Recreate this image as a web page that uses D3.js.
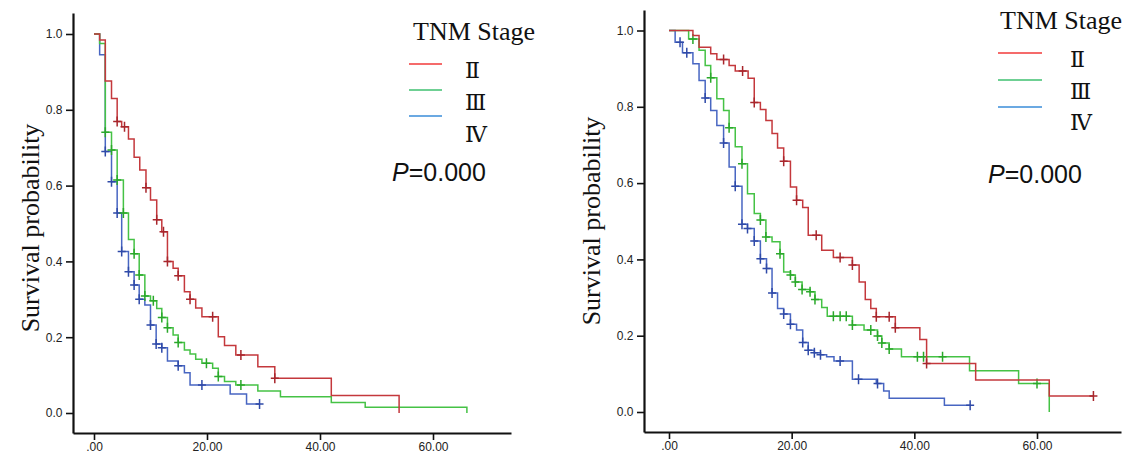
<html>
<head>
<title>TNM Stage survival</title>
<script src="https://d3js.org/d3.v7.min.js"></script>
<style>
  body { margin: 0; background: #fff; }
  .tick text { font-family: Arial, "Liberation Sans", sans-serif; font-size: 12px; fill: #222; }
</style>
</head>
<body>
<svg id="km" width="1126" height="455"></svg>
<script>

// tick labels
const xTicks = [0, 20, 40, 60];
const xTickLabels = [".00", "20.00", "40.00", "60.00"];
const yTicks = [0, 0.2, 0.4, 0.6, 0.8, 1.0];
const yTickLabels = ["0.0", "0.2", "0.4", "0.6", "0.8", "1.0"];
const stages = ["\u2161", "\u2162", "\u2163"];

// left plot: step times, survival after the step, censor times
const leftTimeII = [0, 1.0, 2.0, 3.1, 4.1, 4.9, 6.1, 7.1, 8.1, 9.2, 10.0, 11.1, 12.0, 13.0, 14.0, 14.9, 16.0, 17.0, 18.0, 19.1, 22.0, 23.1, 25.1, 29.0, 32.0, 42.0, 54.0];
const leftSurvII = [1.0, 0.984, 0.876, 0.83, 0.769, 0.755, 0.723, 0.675, 0.641, 0.594, 0.562, 0.51, 0.478, 0.40, 0.382, 0.362, 0.32, 0.30, 0.277, 0.254, 0.201, 0.178, 0.153, 0.122, 0.092, 0.046, 0.0];
const leftCensII = [4.1, 5.4, 9.2, 11.1, 12.3, 13.0, 14.9, 17.0, 21.0, 26.0, 32.0];

const leftTimeIII = [0, 1.0, 2.0, 3.1, 4.1, 5.2, 6.1, 7.1, 8.0, 9.0, 10.0, 11.1, 12.0, 13.0, 14.0, 14.9, 16.0, 17.0, 18.0, 19.1, 21.0, 22.0, 23.1, 25.1, 29.0, 33.0, 42.0, 48.0, 66.0];
const leftSurvIII = [1.0, 0.975, 0.741, 0.694, 0.615, 0.528, 0.458, 0.42, 0.364, 0.309, 0.296, 0.276, 0.252, 0.225, 0.206, 0.186, 0.166, 0.156, 0.142, 0.131, 0.118, 0.096, 0.083, 0.074, 0.058, 0.043, 0.028, 0.015, 0.0];
const leftCensIII = [2.0, 3.1, 4.1, 5.2, 7.1, 8.0, 9.0, 10.5, 12.0, 13.0, 14.9, 19.9, 22.0, 26.0];

const leftTimeIV = [0, 1.0, 2.0, 3.1, 4.1, 4.9, 6.1, 7.1, 8.0, 9.0, 10.0, 11.0, 12.0, 13.0, 14.9, 16.0, 17.0, 24.1, 27.0];
const leftSurvIV = [1.0, 0.945, 0.69, 0.61, 0.528, 0.426, 0.373, 0.338, 0.30, 0.285, 0.232, 0.182, 0.172, 0.137, 0.125, 0.106, 0.074, 0.05, 0.024];
const leftCensIV = [2.0, 3.1, 4.1, 4.9, 6.1, 7.1, 8.0, 10.0, 11.0, 12.0, 14.9, 19.1, 29.3];

// right plot
const rightTimeII = [0, 3.9, 4.9, 6.8, 7.8, 9.8, 10.8, 12.9, 13.9, 14.9, 15.8, 16.8, 17.7, 18.7, 19.8, 20.8, 21.8, 22.7, 24.9, 26.8, 29.9, 31.0, 32.0, 32.9, 33.8, 36.9, 40.9, 42.0, 50.0, 62.0];
const rightSurvII = [1.0, 0.987, 0.956, 0.939, 0.924, 0.908, 0.894, 0.875, 0.811, 0.793, 0.764, 0.73, 0.692, 0.657, 0.59, 0.555, 0.536, 0.463, 0.424, 0.405, 0.385, 0.341, 0.295, 0.271, 0.25, 0.221, 0.19, 0.127, 0.084, 0.042];
const rightCensII = [8.9, 12.0, 13.9, 18.7, 20.8, 24.0, 27.9, 29.9, 33.8, 35.9, 36.9, 42.0, 69.2];

const rightTimeIII = [0, 3.2, 4.9, 5.9, 6.8, 7.8, 8.9, 9.8, 10.8, 11.9, 12.8, 13.9, 14.9, 15.8, 16.8, 18.1, 18.7, 19.8, 20.6, 21.7, 23.0, 23.8, 24.9, 25.8, 29.9, 31.8, 34.0, 34.7, 35.9, 37.9, 49.0, 57.0, 62.0];
const rightSurvIII = [1.0, 0.978, 0.948, 0.908, 0.876, 0.821, 0.79, 0.745, 0.695, 0.651, 0.572, 0.52, 0.503, 0.459, 0.446, 0.415, 0.367, 0.359, 0.341, 0.321, 0.315, 0.295, 0.274, 0.251, 0.228, 0.215, 0.199, 0.181, 0.165, 0.145, 0.108, 0.075, 0.0];
const rightCensIII = [3.9, 6.8, 9.8, 11.9, 14.9, 15.8, 18.1, 19.8, 20.6, 21.7, 23.0, 23.8, 26.8, 27.9, 28.9, 29.9, 32.9, 34.0, 34.7, 35.9, 40.5, 41.5, 44.6, 60.0];

const rightTimeIV = [0, 1.0, 2.2, 3.9, 4.9, 5.9, 6.8, 7.8, 8.9, 9.8, 10.8, 11.9, 12.8, 13.9, 14.9, 15.9, 16.8, 17.7, 18.7, 19.8, 20.8, 21.8, 22.7, 23.7, 24.7, 25.7, 26.9, 29.9, 33.8, 35.0, 35.9, 44.9];
const rightSurvIV = [1.0, 0.969, 0.942, 0.913, 0.869, 0.823, 0.79, 0.751, 0.705, 0.642, 0.592, 0.492, 0.481, 0.448, 0.402, 0.376, 0.312, 0.271, 0.257, 0.23, 0.215, 0.182, 0.162, 0.155, 0.15, 0.145, 0.134, 0.086, 0.075, 0.055, 0.036, 0.018];
const rightCensIV = [1.8, 2.9, 5.9, 8.9, 10.8, 11.9, 12.8, 13.9, 14.9, 15.9, 16.8, 18.7, 19.8, 21.8, 22.7, 23.7, 24.7, 27.9, 30.9, 34.0, 49.1];

const curveColors = ["#c4383c", "#45c245", "#4866c2"];
const markColors = ["#a8262c", "#2aa82a", "#2f4aa8"];
const legendColors = ["#f23a3a", "#3fc070", "#3a8cd8"];

const panels = [
  { axisX: 73, axisY: 433, top: 13, right: 511, t0px: 94, t60px: 433, s0px: 413, s1px: 34,
    curves: [[leftTimeII, leftSurvII, leftCensII], [leftTimeIII, leftSurvIII, leftCensIII], [leftTimeIV, leftSurvIV, leftCensIV]],
    labelX: 30, labelY: 228,
    legTitle: [413, 40], legLineX: [409, 442], legLineY: [64, 90, 116], legTextX: 465, legTextY: [78, 110, 142], pPos: [392, 181] },
  { axisX: 644, axisY: 432, top: 10, right: 1121, t0px: 669, t60px: 1037, s0px: 412, s1px: 30.5,
    curves: [[rightTimeII, rightSurvII, rightCensII], [rightTimeIII, rightSurvIII, rightCensIII], [rightTimeIV, rightSurvIV, rightCensIV]],
    labelX: 591, labelY: 221,
    legTitle: [1000, 29], legLineX: [998, 1042], legLineY: [53, 80, 107], legTextX: 1070, legTextY: [67, 99, 130], pPos: [988, 183] }
];

const svg = d3.select("svg#km");
svg.append("rect").attr("width", 1126).attr("height", 455).attr("fill", "#fff");

panels.forEach(p => {
  // scales anchored on the tick positions, then stretched to the axis ends
  const xs = d3.scaleLinear().domain([0, 60]).range([p.t0px, p.t60px]);
  const xScale = d3.scaleLinear().domain([xs.invert(p.axisX), xs.invert(p.right)]).range([p.axisX, p.right]);
  const ys = d3.scaleLinear().domain([0, 1]).range([p.s0px, p.s1px]);
  const yScale = d3.scaleLinear().domain([ys.invert(p.axisY), ys.invert(p.top)]).range([p.axisY, p.top]);

  const g = svg.append("g");

  const bottomAxis = d3.axisBottom(xScale).tickValues(xTicks).tickSize(7).tickSizeOuter(0)
                       .tickFormat((d, i) => xTickLabels[i]);
  const gx = g.append("g").attr("transform", "translate(0," + p.axisY + ")").call(bottomAxis);
  gx.selectAll("text").attr("y", 9);

  const leftAxis = d3.axisLeft(yScale).tickValues(yTicks).tickSize(7).tickSizeOuter(0)
                     .tickFormat((d, i) => yTickLabels[i]);
  const gy = g.append("g").attr("transform", "translate(" + p.axisX + ",0)").call(leftAxis);
  gy.selectAll("text").attr("dx", "-0.05em");

  [gx, gy].forEach(a => {
    a.select(".domain").attr("stroke", "#111").attr("stroke-width", 2.2);
    a.selectAll(".tick line").attr("stroke", "#111").attr("stroke-width", 1.6);
  });

  // survival curves, stage IV under III under II
  const line = d3.line().x(d => xScale(d[0])).y(d => yScale(d[1])).curve(d3.curveStepAfter);
  [2, 1, 0].forEach(k => {
    const [times, surv, cens] = p.curves[k];
    const pts = times.map((t, i) => [t, surv[i]]);
    const end = Math.max(times[times.length - 1], d3.max(cens));
    if (end > times[times.length - 1]) pts.push([end, surv[surv.length - 1]]);
    g.append("path").datum(pts)
      .attr("fill", "none").attr("stroke", curveColors[k]).attr("stroke-width", 1.5)
      .attr("d", line);

    const survAt = t => surv[d3.bisectRight(times, t) - 1];
    g.selectAll(null).data(cens).join("path")
      .attr("fill", "none").attr("stroke", markColors[k]).attr("stroke-width", 1.5)
      .attr("d", c => {
        const x = xScale(c), y = yScale(survAt(c));
        return "M" + (x - 4) + "," + y + "h8M" + x + "," + (y - 5) + "v10";
      });
  });

  // y label
  g.append("text")
    .attr("transform", "translate(" + p.labelX + "," + p.labelY + ") rotate(-90)")
    .attr("text-anchor", "middle").attr("dominant-baseline", "central")
    .style("font-family", "'Liberation Serif', 'Times New Roman', serif").style("font-size", "26px")
    .attr("fill", "#111").text("Survival probability");

  // legend
  g.append("text").attr("x", p.legTitle[0]).attr("y", p.legTitle[1])
    .style("font-family", "'Liberation Serif', 'Times New Roman', serif").style("font-size", "26px")
    .attr("fill", "#111").text("TNM Stage");
  stages.forEach((s, i) => {
    g.append("line").attr("x1", p.legLineX[0]).attr("x2", p.legLineX[1])
      .attr("y1", p.legLineY[i]).attr("y2", p.legLineY[i])
      .attr("stroke", legendColors[i]).attr("stroke-width", 1.6);
    g.append("text").attr("x", p.legTextX).attr("y", p.legTextY[i])
      .style("font-family", "'DejaVu Serif', 'Liberation Serif', serif").style("font-size", "22px")
      .attr("fill", "#111").text(s);
  });

  const pt = g.append("text").attr("x", p.pPos[0]).attr("y", p.pPos[1])
    .style("font-family", "'Liberation Sans', Arial, sans-serif").style("font-size", "25px").attr("fill", "#111");
  pt.append("tspan").style("font-style", "italic").text("P");
  pt.append("tspan").text("=0.000");
});

</script>
</body>
</html>
